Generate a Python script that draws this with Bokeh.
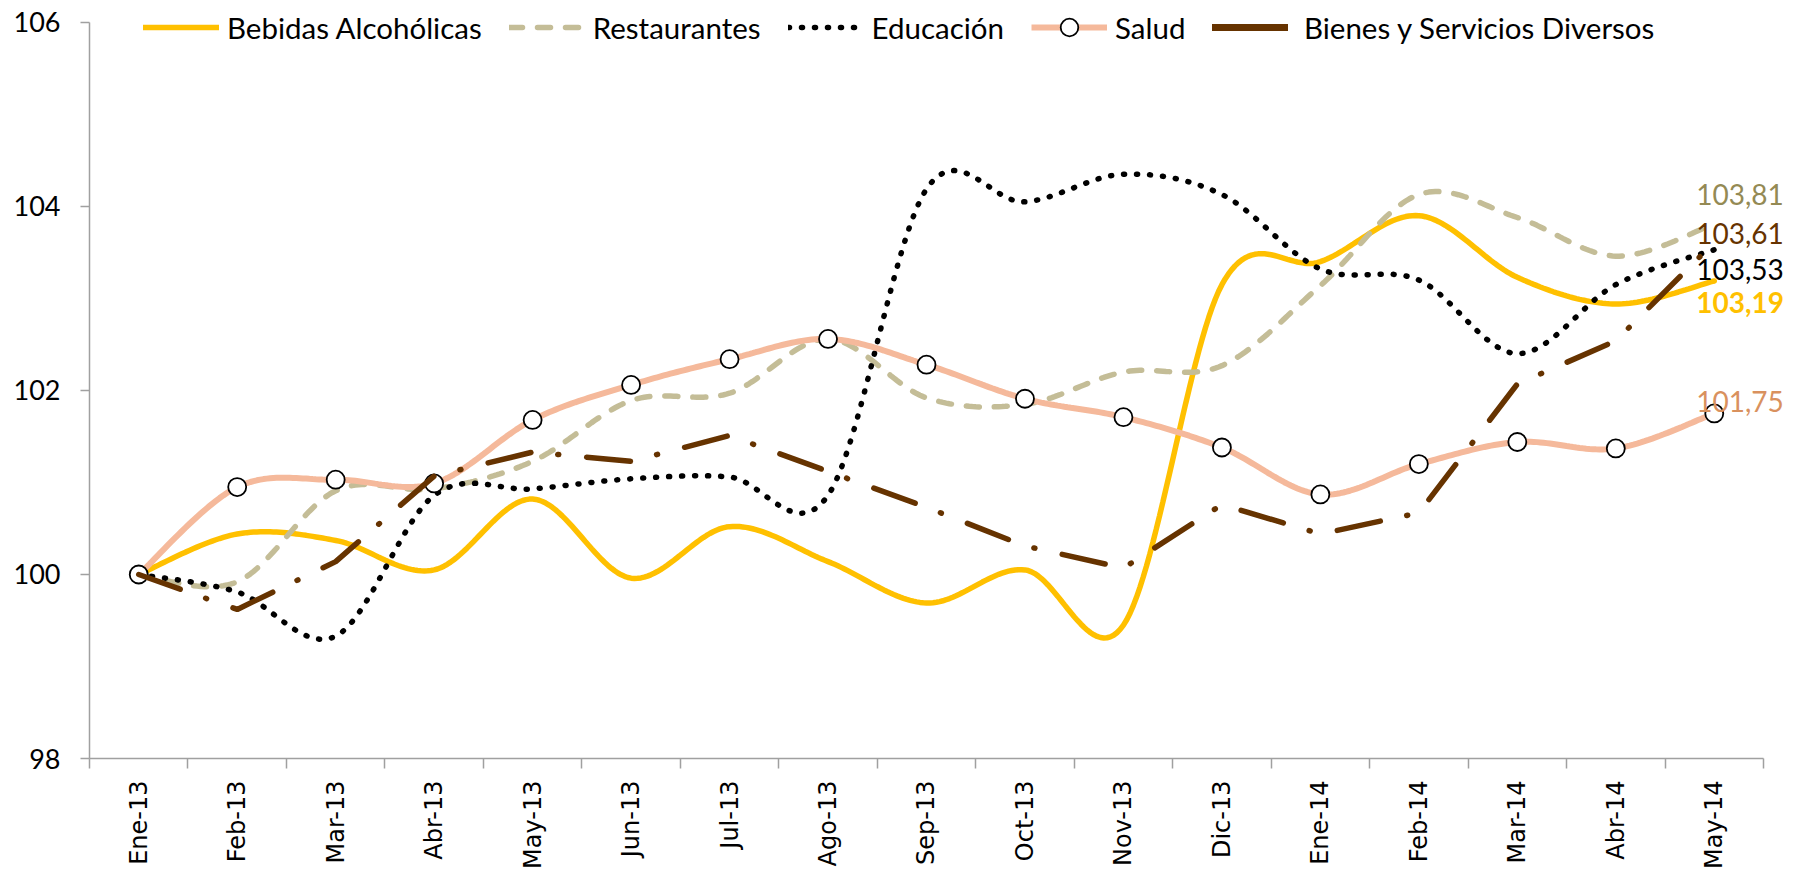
import numpy as np
from math import pi
from bokeh.plotting import figure
from bokeh.models import Range1d, FixedTicker, Legend, LegendItem, Label
from bokeh.embed import file_html
from bokeh.resources import INLINE

months = ["Ene-13", "Feb-13", "Mar-13", "Abr-13", "May-13", "Jun-13", "Jul-13", "Ago-13",
          "Sep-13", "Oct-13", "Nov-13", "Dic-13", "Ene-14", "Feb-14", "Mar-14", "Abr-14", "May-14"]

bebidas = [100.00, 100.44, 100.37, 100.05, 100.82, 99.96, 100.52, 100.14, 99.69,
           100.05, 99.45, 103.15, 103.40, 103.90, 103.23, 102.94, 103.19]
restaurantes = [100.00, 99.92, 100.91, 100.93, 101.23, 101.89, 101.97, 102.56, 101.92,
                101.85, 102.20, 102.27, 103.14, 104.13, 103.88, 103.46, 103.81]
educacion = [100.00, 99.81, 99.33, 100.86, 100.93, 101.04, 101.06, 100.86, 104.19,
             104.05, 104.35, 104.13, 103.32, 103.20, 102.40, 103.15, 103.53]
salud = [100.00, 100.95, 101.03, 100.99, 101.68, 102.06, 102.34, 102.56, 102.28,
         101.91, 101.71, 101.38, 100.87, 101.20, 101.44, 101.37, 101.75]
bienes = [100.00, 99.62, 100.14, 101.07, 101.33, 101.23, 101.51, 101.12, 100.73,
          100.31, 100.07, 100.76, 100.44, 100.67, 102.07, 102.54, 103.61]

y_ticks = [98, 100, 102, 104, 106]

x_idx = list(range(len(months)))


def smooth(xs, ys, n=30):
    """Excel-like smoothed line (Catmull-Rom Bezier) through the data points."""
    P = np.column_stack([np.asarray(xs, float), np.asarray(ys, float)])
    out = []
    m = len(P)
    t = np.linspace(0, 1, n, endpoint=False)[:, None]
    for i in range(m - 1):
        p0 = P[i - 1] if i > 0 else P[i]
        p1 = P[i]
        p2 = P[i + 1]
        p3 = P[i + 2] if i + 2 < m else P[i + 1]
        c1 = p1 + (p2 - p0) / 6.0
        c2 = p2 - (p3 - p1) / 6.0
        b = ((1 - t) ** 3) * p1 + 3 * ((1 - t) ** 2) * t * c1 + 3 * (1 - t) * t ** 2 * c2 + t ** 3 * p2
        out.append(b)
    out.append(P[-1][None, :])
    arr = np.vstack(out)
    return arr[:, 0], arr[:, 1]


X0, X1 = -0.5, len(months) - 0.5
Y0, Y1 = y_ticks[0], y_ticks[-1]

p = figure(width=1786, height=871,
           x_range=Range1d(X0, X1 + 0.2336), y_range=Range1d(Y0, Y1 + 0.2385),
           output_backend="svg", toolbar_location=None,
           min_border_left=89, min_border_right=0, min_border_top=0, min_border_bottom=111)
p.outline_line_color = None
p.xgrid.visible = False
p.ygrid.visible = False
p.background_fill_color = "white"

FONT = "Lato"

bx, by = smooth(x_idx, bebidas)
r_beb = p.line(bx, by, line_color="#FFC000", line_width=5.5, line_cap="round")

rx, ry = smooth(x_idx, restaurantes)
r_res = p.line(rx, ry, line_color="#C4BD97", line_width=5.5, line_dash="13 15", line_cap="round")

ex, ey = smooth(x_idx, educacion)
r_edu = p.line(ex, ey, line_color="black", line_width=5.5, line_dash="1 12", line_cap="round")

sx, sy = smooth(x_idx, salud)
r_sal = p.line(sx, sy, line_color="#F5B99B", line_width=6)
r_salm = p.scatter(x_idx, salud, marker="circle", size=18, fill_color="white",
                   line_color="black", line_width=1.8)

r_bien = p.line(x_idx, bienes, line_color="#663300", line_width=5.5, line_dash="44 27 1 28",
                line_cap="round")
# solid swatch used only for the legend entry (single point: draws nothing in the plot)
r_bien_leg = p.line(x=[x_idx[0]], y=[bienes[0]], line_color="#663300", line_width=7,
                    line_cap="round")

# axes
xa = p.xaxis[0]
xa.bounds = (X0, X1)
xa.ticker = FixedTicker(ticks=x_idx, minor_ticks=[i - 0.5 for i in range(len(months) + 1)])
xa.major_label_overrides = {i: m for i, m in enumerate(months)}
xa.major_tick_out = 0
xa.major_tick_in = 0
xa.minor_tick_out = 10
xa.minor_tick_in = 0
xa.minor_tick_line_color = "#A0A0A0"
xa.minor_tick_line_width = 1.5
xa.axis_line_color = "#A0A0A0"
xa.axis_line_width = 1.5
xa.major_label_orientation = pi / 2
xa.major_label_text_font = "DejaVu Sans"
xa.major_label_text_font_size = "24px"
xa.major_label_text_color = "black"
xa.major_label_standoff = 12

ya = p.yaxis[0]
ya.bounds = (Y0, Y1)
ya.ticker = FixedTicker(ticks=y_ticks)
ya.major_tick_out = 9
ya.major_tick_in = 0
ya.minor_tick_out = 0
ya.minor_tick_in = 0
ya.major_tick_line_color = "#A0A0A0"
ya.major_tick_line_width = 1.5
ya.axis_line_color = "#A0A0A0"
ya.axis_line_width = 1.5
ya.major_label_text_font = FONT
ya.major_label_text_font_size = "27px"
ya.major_label_text_color = "black"
ya.major_label_standoff = 20

legend = Legend(items=[
    LegendItem(label="Bebidas Alcohólicas", renderers=[r_beb]),
    LegendItem(label="Restaurantes", renderers=[r_res]),
    LegendItem(label="Educación", renderers=[r_edu]),
    LegendItem(label="Salud", renderers=[r_sal, r_salm]),
    LegendItem(label="\u00a0Bienes y Servicios Diversos", renderers=[r_bien_leg]),
], orientation="horizontal", location=(54, 709), glyph_width=76, glyph_height=44,
    label_standoff=8, spacing=27, padding=0, margin=0, border_line_alpha=0,
    background_fill_alpha=0, label_text_font=FONT, label_text_font_size="29.5px",
    label_text_color="black")
p.add_layout(legend)

# end labels
end_series = [restaurantes, bienes, educacion, bebidas, salud]
end_colors = ["#948A54", "#663300", "black", "#FFC000", "#D9915E"]
end_bold = [False, False, False, True, False]
end_dy = [29, 9, -20, -22, 12]
for s, c, bd, dy in zip(end_series, end_colors, end_bold, end_dy):
    txt = f"{s[-1]:.2f}".replace(".", ",")
    p.add_layout(Label(x=x_idx[-1], y=s[-1], text=txt, x_offset=-18, y_offset=dy,
                       text_align="left", text_baseline="middle", text_font=FONT,
                       text_font_size="28px", text_color=c,
                       text_font_style="bold" if bd else "normal"))

open("out.html", "w").write(file_html(p, INLINE))
